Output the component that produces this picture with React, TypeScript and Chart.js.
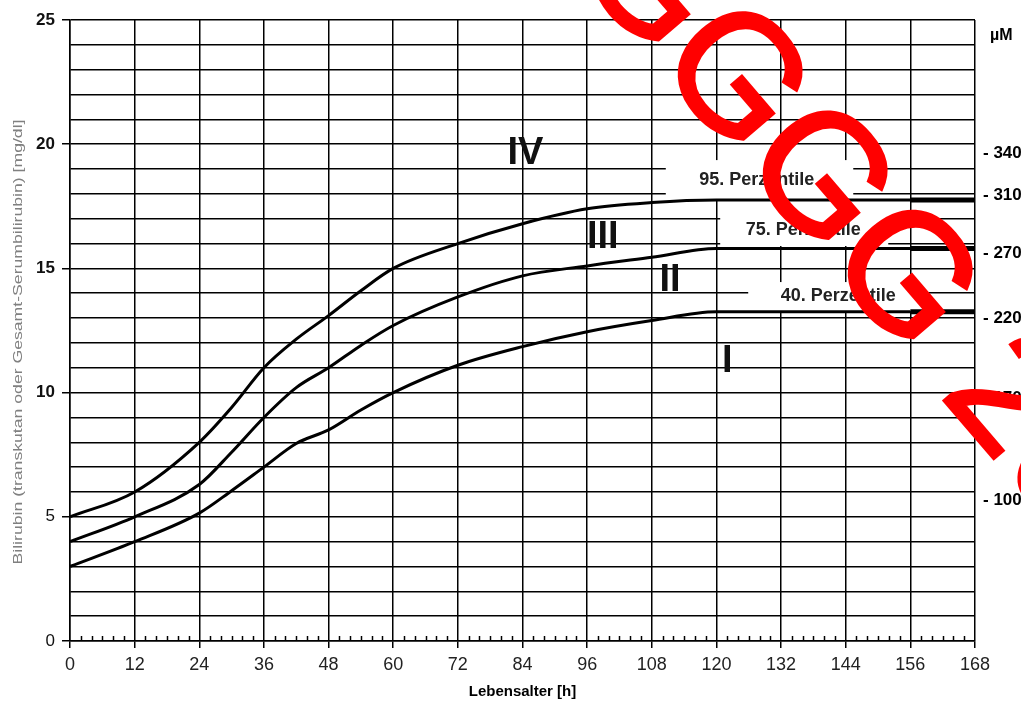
import React, { useEffect, useRef } from "react";
import { Chart, registerables } from "chart.js";

Chart.register(...registerables);

// Age in hours
const hours = [0, 12, 24, 30, 36, 42, 48, 54, 60, 72, 84, 96, 108, 120, 132, 144, 156, 168];
// Percentile curves (mg/dl)
const p95 = [5.0, 6.0, 8.0, 9.4, 11.0, 12.15, 13.1, 14.1, 15.0, 16.0, 16.8, 17.4, 17.65, 17.75, 17.75, 17.75, 17.75, 17.75];
const p75 = [4.0, 5.0, 6.3, 7.6, 9.0, 10.2, 11.0, 11.9, 12.7, 13.85, 14.7, 15.1, 15.45, 15.8, 15.8, 15.8, 15.8, 15.8];
const p40 = [3.0, 4.0, 5.15, 6.05, 7.0, 7.95, 8.5, 9.3, 10.0, 11.1, 11.85, 12.45, 12.9, 13.25, 13.25, 13.25, 13.25, 13.25];

// Right-hand µM scale labels and their mg/dl positions
const umLabels = ["340", "310", "270", "220", "170", "100"];
const umPos = [19.65, 17.95, 15.62, 13.0, 9.78, 5.68];

// Percentile label boxes (data coords)
const boxLabels = ["95. Perzentile", "75. Perzentile", "40. Perzentile"];
const boxH0 = [110.6, 120.7, 125.9];
const boxH1 = [145.4, 151.9, 156.9];
const boxV0 = [19.36, 17.55, 14.45];
const boxV1 = [17.79, 15.9, 13.28];
const boxTextH = [127.5, 136.1, 142.6];
const boxTextV = [18.56, 16.55, 13.89];

// Zone numerals
const zoneLabels = ["IV", "III", "II", "I"];
const zoneH = [84.55, 98.9, 111.4, 122.0];
const zoneV = [19.77, 16.38, 14.65, 11.39];

const yTitle = "Bilirubin (transkutan oder Gesamt-Serumbilirubin) [mg/dl]";
const xTitle = "Lebensalter [h]";
const FONT = '"Liberation Sans", Arial, sans-serif';

const decor = {
  id: "decor",
  beforeDatasetsDraw(chart: any) {
    const { ctx, scales } = chart;
    const x = scales.x;
    const y = scales.y;
    ctx.save();
    // minor ticks
    ctx.strokeStyle = "#000";
    ctx.lineWidth = 1.5;
    for (let h = 0; h <= 168; h += 2) {
      if (h % 12 === 0) continue;
      const px = Math.round(x.getPixelForValue(h)) + 0.5;
      ctx.beginPath();
      ctx.moveTo(px, y.bottom);
      ctx.lineTo(px, y.bottom - 5);
      ctx.stroke();
    }
    // label boxes
    ctx.fillStyle = "#fff";
    for (let i = 0; i < boxLabels.length; i++) {
      const x0 = x.getPixelForValue(boxH0[i]);
      const x1 = x.getPixelForValue(boxH1[i]);
      const y0 = y.getPixelForValue(boxV0[i]);
      const y1 = y.getPixelForValue(boxV1[i]);
      ctx.fillRect(x0, y0, x1 - x0, y1 - y0);
    }
    ctx.fillStyle = "#222";
    ctx.font = `bold 18px ${FONT}`;
    ctx.textAlign = "center";
    ctx.textBaseline = "middle";
    for (let i = 0; i < boxLabels.length; i++) {
      ctx.fillText(boxLabels[i], x.getPixelForValue(boxTextH[i]), y.getPixelForValue(boxTextV[i]));
    }
    ctx.restore();
  },
  afterDraw(chart: any) {
    const { ctx, scales } = chart;
    const x = scales.x;
    const y = scales.y;
    ctx.save();
    // zone numerals
    const sz = 38;
    ctx.font = `bold ${sz}px ${FONT}`;
    ctx.fillStyle = "#111";
    ctx.textAlign = "center";
    ctx.textBaseline = "alphabetic";
    for (let i = 0; i < zoneLabels.length; i++) {
      ctx.fillText(zoneLabels[i], x.getPixelForValue(zoneH[i]), y.getPixelForValue(zoneV[i]) + sz * 0.716 / 2);
    }
    // µM unit
    ctx.font = `bold 16px ${FONT}`;
    ctx.fillStyle = "#000";
    ctx.textAlign = "left";
    ctx.textBaseline = "middle";
    ctx.fillText("µM", 990, 36);
    // x title
    ctx.font = `bold 15px ${FONT}`;
    ctx.textAlign = "center";
    ctx.fillText(xTitle, (x.left + x.right) / 2, 692);
    // y title
    ctx.save();
    ctx.translate(18, 342);
    ctx.rotate(-Math.PI / 2);
    ctx.font = `13px ${FONT}`;
    ctx.fillStyle = "#808080";
    const w = ctx.measureText(yTitle).width;
    ctx.scale(445 / w, 1);
    ctx.fillText(yTitle, 0, 0);
    ctx.restore();
    // watermark
    ctx.save();
    ctx.translate(568, -38);
    ctx.rotate((49.4 * Math.PI) / 180);
    ctx.font = `168px ${FONT}`;
    ctx.fillStyle = "#ff0000";
    ctx.strokeStyle = "#ff0000";
    ctx.lineWidth = 3;
    ctx.lineJoin = "miter";
    ctx.textAlign = "left";
    ctx.textBaseline = "alphabetic";
    ctx.fillText("GGGG 20", 0, 0);
    ctx.strokeText("GGGG 20", 0, 0);
    ctx.restore();
    ctx.restore();
  },
};

export default function App() {
  const ref = useRef<HTMLCanvasElement | null>(null);
  useEffect(() => {
    if (!ref.current) return;
    const mk = (vals: number[]) => hours.map((h, i) => ({ x: h, y: vals[i] }));
    const ds = (label: string, vals: number[]) => ({
      label,
      data: mk(vals),
      borderColor: "#000",
      borderWidth: 3,
      pointRadius: 0,
      fill: false,
      cubicInterpolationMode: "monotone" as const,
      segment: {
        borderWidth: (c: any) => (c.p0.parsed.x >= 156 ? 5 : 3),
      },
    });
    const chart = new Chart(ref.current, {
      type: "line",
      data: {
        datasets: [ds("95", p95), ds("75", p75), ds("40", p40)],
      },
      plugins: [decor],
      options: {
        animation: false,
        responsive: true,
        maintainAspectRatio: false,
        layout: { padding: { top: 20, left: 0, right: 0, bottom: 0 } },
        plugins: { legend: { display: false }, tooltip: { enabled: false } },
        scales: {
          x: {
            type: "linear",
            min: 0,
            max: 168,
            afterFit: (s: any) => {
              s.height = 63;
            },
            ticks: {
              stepSize: 2,
              autoSkip: false,
              maxRotation: 0,
              padding: 6,
              color: "#222",
              font: { family: FONT, size: 18 },
              callback: (v: any) => (Number(v) % 12 === 0 ? String(v) : ""),
            },
            grid: {
              color: (c: any) => (c.tick && c.tick.value % 12 === 0 ? "#000" : "rgba(0,0,0,0)"),
              tickColor: (c: any) => (c.tick && c.tick.value % 12 === 0 ? "#000" : "rgba(0,0,0,0)"),
              lineWidth: 1.5,
              tickLength: 7,
            },
            border: { color: "#000", width: 1.5 },
          },
          y: {
            type: "linear",
            position: "left",
            min: 0,
            max: 25,
            afterFit: (s: any) => {
              s.width = 70;
            },
            ticks: {
              stepSize: 1,
              autoSkip: false,
              padding: 7,
              color: "#111",
              font: (c: any) => ({
                family: FONT,
                size: 17,
                weight: c.tick && c.tick.value >= 10 ? "bold" : "normal",
              }),
              callback: (v: any) => (Number(v) % 5 === 0 ? String(v) : ""),
            },
            grid: {
              color: "#000",
              lineWidth: 1.5,
              tickLength: 8,
              tickColor: (c: any) => (c.tick && c.tick.value % 5 === 0 ? "#000" : "rgba(0,0,0,0)"),
            },
            border: { color: "#000", width: 1.5 },
          },
          y1: {
            type: "linear",
            position: "right",
            min: 0,
            max: 25,
            afterFit: (s: any) => {
              s.width = 46;
            },
            afterBuildTicks: (s: any) => {
              s.ticks = umPos.map((v) => ({ value: v }));
            },
            ticks: {
              autoSkip: false,
              padding: 0,
              color: "#000",
              font: { family: FONT, size: 17, weight: "bold" },
              callback: (_v: any, i: number) => `- ${umLabels[i]}`,
            },
            grid: { display: false },
            border: { display: false },
          },
        },
      },
    });
    return () => chart.destroy();
  }, []);
  return (
    <div style={{ position: "fixed", left: 0, top: 0, width: 1021, height: 704, background: "#fff" }}>
      <canvas ref={ref} />
    </div>
  );
}
